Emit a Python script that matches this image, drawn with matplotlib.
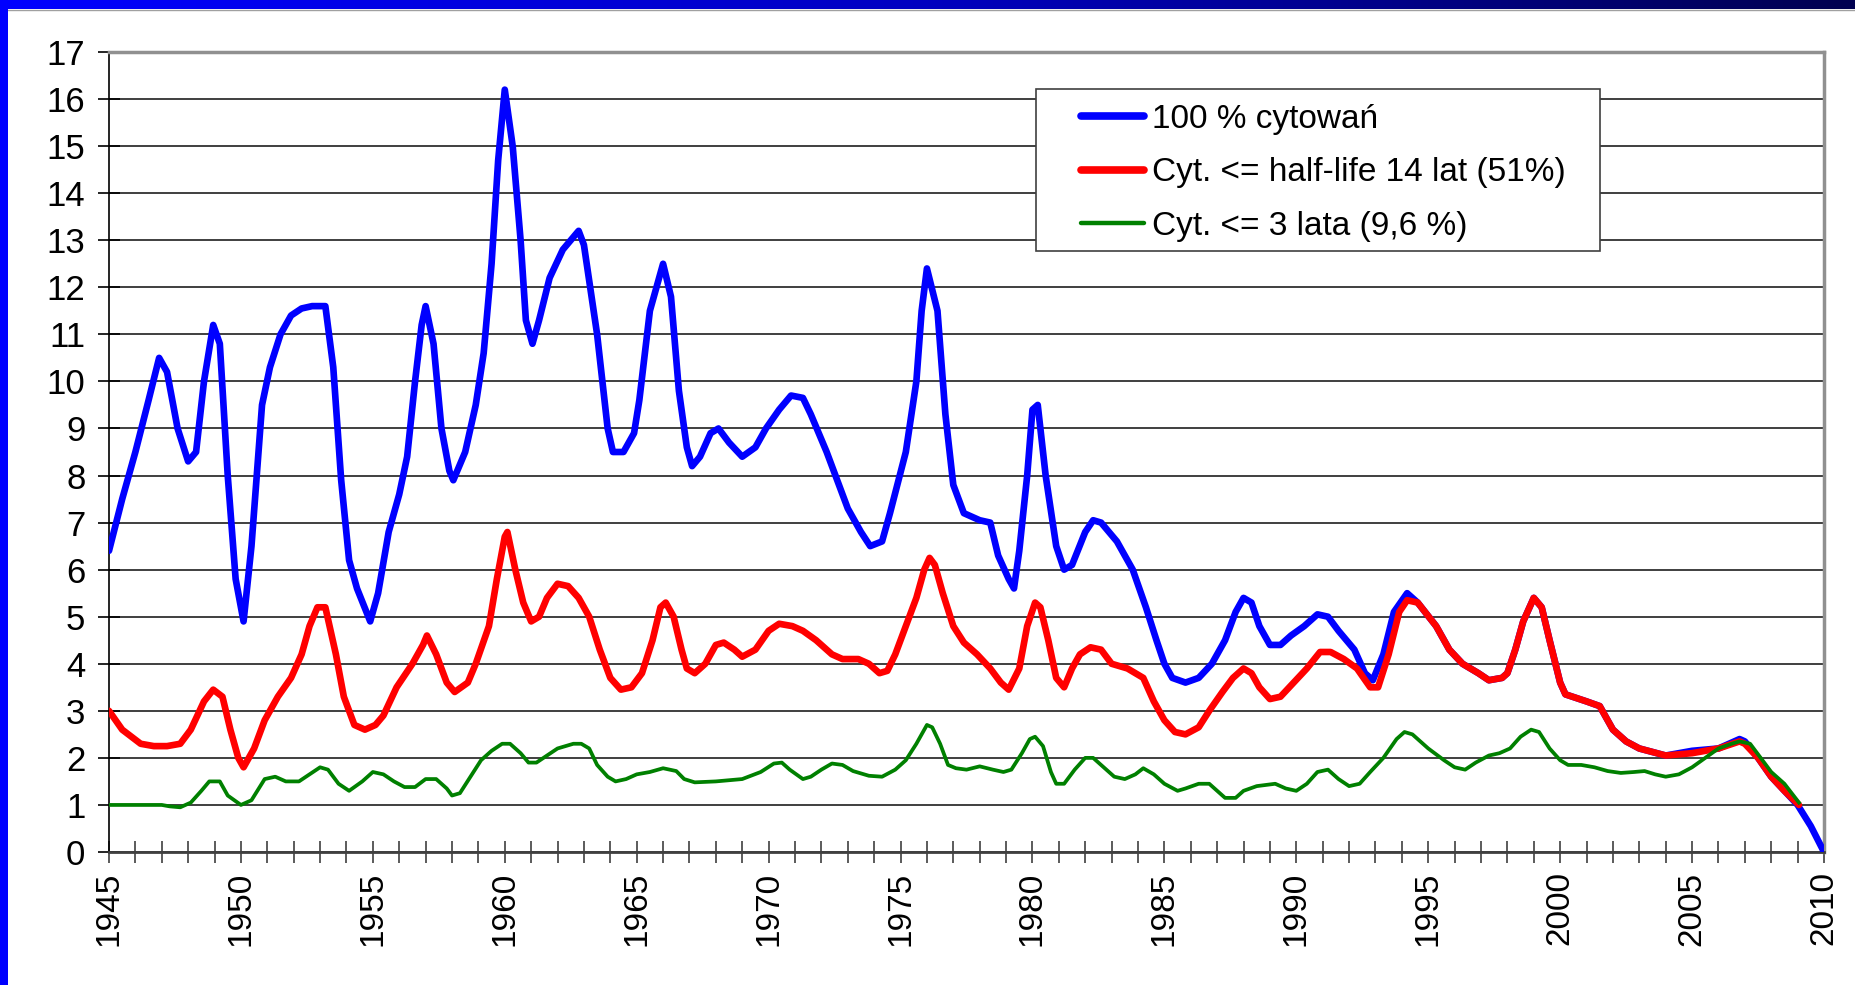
import numpy as np
import matplotlib.pyplot as plt
from matplotlib.patches import Rectangle
from matplotlib.lines import Line2D

plt.rcParams['font.family'] = ['Liberation Sans', 'DejaVu Sans']

# 100 % cytowan (blue)
blue_years = [1945, 1945.5, 1946, 1946.5, 1946.9, 1947.2, 1947.6, 1948.0, 1948.3, 1948.6, 1948.95,
              1949.2, 1949.5, 1949.8, 1950.1, 1950.4, 1950.8, 1951.1, 1951.5, 1951.9, 1952.3,
              1952.7, 1953.2, 1953.5, 1953.8, 1954.1, 1954.4, 1954.9, 1955.2, 1955.6, 1956.0,
              1956.3, 1956.6, 1956.85, 1957.0, 1957.3, 1957.6, 1957.9, 1958.05, 1958.5, 1958.9,
              1959.2, 1959.5, 1959.75, 1960.0, 1960.3, 1960.6, 1960.8, 1961.05, 1961.3, 1961.7,
              1962.2, 1962.8, 1963.0, 1963.5, 1963.9, 1964.1, 1964.5, 1964.9, 1965.1, 1965.5,
              1966.0, 1966.3, 1966.6, 1966.9, 1967.1, 1967.4, 1967.8, 1968.1, 1968.5, 1969.0,
              1969.5, 1969.9, 1970.4, 1970.85, 1971.3, 1971.6, 1972.2, 1973.0, 1973.5, 1973.85,
              1974.3, 1974.6, 1975.2, 1975.6, 1975.8, 1976.0, 1976.4, 1976.7, 1977.0, 1977.4,
              1978.0, 1978.4, 1978.7, 1979.1, 1979.3, 1979.5, 1979.8, 1980.0, 1980.2, 1980.5,
              1980.9, 1981.2, 1981.5, 1982.0, 1982.3, 1982.6, 1983.2, 1983.8, 1984.3, 1984.7,
              1985.0, 1985.3, 1985.8, 1986.3, 1986.8, 1987.3, 1987.7, 1988.0, 1988.3, 1988.6,
              1989.0, 1989.4, 1989.8, 1990.3, 1990.8, 1991.2, 1991.6, 1992.2, 1992.6, 1992.9,
              1993.3, 1993.7, 1994.2, 1994.6, 1995.3, 1995.8, 1996.3, 1996.9, 1997.3, 1997.8,
              1998.0, 1998.3, 1998.6, 1999.0, 1999.3, 1999.6, 2000.0, 2000.2, 2001.0, 2001.5,
              2002.0, 2002.5, 2003.0, 2004.0, 2005.0, 2006.0, 2006.8, 2007.0, 2007.5, 2008.0,
              2008.5, 2009.0, 2009.5, 2010.0]
blue_vals = [6.4, 7.5, 8.5, 9.6, 10.5, 10.2, 9.0, 8.3, 8.5, 10.0, 11.2,
             10.8, 8.0, 5.8, 4.9, 6.5, 9.5, 10.3, 11.0, 11.4, 11.55,
             11.6, 11.6, 10.3, 7.9, 6.2, 5.6, 4.9, 5.5, 6.8, 7.6,
             8.4, 10.0, 11.2, 11.6, 10.8, 9.0, 8.1, 7.9, 8.5, 9.5,
             10.6, 12.5, 14.7, 16.2, 15.0, 13.0, 11.3, 10.8, 11.3, 12.2,
             12.8, 13.2, 12.9, 11.0, 9.0, 8.5, 8.5, 8.9, 9.6, 11.5,
             12.5, 11.8, 9.8, 8.6, 8.2, 8.4, 8.9, 9.0, 8.7, 8.4,
             8.6, 9.0, 9.4, 9.7, 9.65, 9.3, 8.5, 7.3, 6.8, 6.5,
             6.6, 7.2, 8.5, 10.0, 11.5, 12.4, 11.5, 9.3, 7.8, 7.2,
             7.05, 7.0, 6.3, 5.8, 5.6, 6.4, 8.0, 9.4, 9.5, 8.0,
             6.5, 6.0, 6.1, 6.8, 7.05, 7.0, 6.6, 6.0, 5.2, 4.5,
             4.0, 3.7, 3.6, 3.7, 4.0, 4.5, 5.1, 5.4, 5.3, 4.8,
             4.4, 4.4, 4.6, 4.8, 5.05, 5.0, 4.7, 4.3, 3.8, 3.65,
             4.2, 5.1, 5.5, 5.3, 4.8, 4.3, 4.0, 3.8, 3.65, 3.7,
             3.8, 4.3, 4.9, 5.4, 5.2, 4.5, 3.6, 3.35, 3.2, 3.1,
             2.6, 2.35, 2.2, 2.05, 2.15, 2.2, 2.4, 2.35, 2.0, 1.6,
             1.3, 1.0, 0.55, 0.0]

# Cyt. <= half-life 14 lat (red)
red_years = [1945, 1945.5, 1946.2, 1946.7, 1947.2, 1947.7, 1948.1, 1948.6, 1948.95, 1949.3,
             1949.6, 1949.9, 1950.1, 1950.5, 1950.9, 1951.4, 1951.9, 1952.3, 1952.6, 1952.9,
             1953.2, 1953.6, 1953.9, 1954.3, 1954.7, 1955.1, 1955.4, 1955.9, 1956.5, 1956.9,
             1957.05, 1957.4, 1957.8, 1958.1, 1958.6, 1958.9, 1959.4, 1959.7, 1960.0, 1960.1,
             1960.4, 1960.7, 1961.0, 1961.3, 1961.6, 1962.0, 1962.4, 1962.8, 1963.2, 1963.6,
             1964.0, 1964.4, 1964.8, 1965.2, 1965.6, 1965.9, 1966.1, 1966.4, 1966.7, 1966.9,
             1967.2, 1967.6, 1968.0, 1968.3, 1968.7, 1969.0, 1969.5, 1970.0, 1970.4, 1970.9,
             1971.3, 1971.8, 1972.4, 1972.8, 1973.4, 1973.8, 1974.2, 1974.5, 1974.8, 1975.2,
             1975.6, 1975.9, 1976.1, 1976.3, 1976.6, 1977.0, 1977.4, 1977.9, 1978.4, 1978.8,
             1979.1, 1979.5, 1979.8, 1980.1, 1980.3, 1980.6, 1980.9, 1981.2, 1981.5, 1981.8,
             1982.2, 1982.6, 1983.0, 1983.6, 1984.2, 1984.6, 1985.0, 1985.4, 1985.8, 1986.3,
             1986.7, 1987.2, 1987.6, 1988.0, 1988.3, 1988.6, 1989.0, 1989.4, 1989.9, 1990.4,
             1990.9, 1991.3, 1991.8, 1992.3, 1992.8, 1993.1, 1993.5, 1993.9, 1994.2, 1994.6,
             1995.3, 1995.8, 1996.3, 1996.9, 1997.3, 1997.8, 1998.0, 1998.3, 1998.6, 1999.0,
             1999.3, 1999.6, 2000.0, 2000.2, 2001.0, 2001.5, 2002.0, 2002.5, 2003.0, 2004.0,
             2005.0, 2006.0, 2006.8, 2007.0, 2007.5, 2008.0, 2008.5, 2009.05]
red_vals = [3.0, 2.6, 2.3, 2.25, 2.25, 2.3, 2.6, 3.2, 3.45, 3.3,
            2.6, 2.0, 1.8, 2.2, 2.8, 3.3, 3.7, 4.2, 4.8, 5.2,
            5.2, 4.2, 3.3, 2.7, 2.6, 2.7, 2.9, 3.5, 4.0, 4.4,
            4.6, 4.2, 3.6, 3.4, 3.6, 4.0, 4.8, 5.8, 6.7, 6.8,
            6.0, 5.3, 4.9, 5.0, 5.4, 5.7, 5.65, 5.4, 5.0, 4.3,
            3.7, 3.45, 3.5, 3.8, 4.5, 5.2, 5.3, 5.0, 4.3, 3.9,
            3.8, 4.0, 4.4, 4.45, 4.3, 4.15, 4.3, 4.7, 4.85, 4.8,
            4.7, 4.5, 4.2, 4.1, 4.1, 4.0, 3.8, 3.85, 4.2, 4.8,
            5.4, 6.0, 6.25, 6.1, 5.5, 4.8, 4.45, 4.2, 3.9, 3.6,
            3.45, 3.9, 4.8, 5.3, 5.2, 4.5, 3.7, 3.5, 3.9, 4.2,
            4.35, 4.3, 4.0, 3.9, 3.7, 3.2, 2.8, 2.55, 2.5, 2.65,
            3.0, 3.4, 3.7, 3.9, 3.8, 3.5, 3.25, 3.3, 3.6, 3.9,
            4.25, 4.25, 4.1, 3.9, 3.5, 3.5, 4.2, 5.1, 5.35, 5.3,
            4.8, 4.3, 4.0, 3.8, 3.65, 3.7, 3.8, 4.3, 4.9, 5.4,
            5.2, 4.5, 3.6, 3.35, 3.2, 3.1, 2.6, 2.35, 2.2, 2.05,
            2.1, 2.2, 2.35, 2.3, 2.0, 1.6, 1.3, 1.0]

# Cyt. <= 3 lata (green)
green_years = [1945, 1946, 1947, 1947.3, 1947.7, 1948.1, 1948.5, 1948.8, 1949.2, 1949.5,
               1950.0, 1950.4, 1950.9, 1951.3, 1951.7, 1952.2, 1952.6, 1953.0, 1953.3, 1953.7,
               1954.1, 1954.6, 1955.0, 1955.4, 1955.8, 1956.2, 1956.6, 1957.0, 1957.4, 1957.8,
               1958.0, 1958.3, 1958.7, 1959.1, 1959.5, 1959.9, 1960.2, 1960.6, 1960.9, 1961.2,
               1961.6, 1962.0, 1962.6, 1962.9, 1963.2, 1963.5, 1963.9, 1964.2, 1964.6, 1965.0,
               1965.5, 1966.0, 1966.5, 1966.8, 1967.2, 1968.0, 1969.0, 1969.7, 1970.2, 1970.5,
               1970.8, 1971.3, 1971.6, 1972.0, 1972.4, 1972.8, 1973.2, 1973.8, 1974.3, 1974.8,
               1975.2, 1975.6, 1976.0, 1976.2, 1976.5, 1976.8, 1977.1, 1977.5, 1978.0, 1978.5,
               1978.9, 1979.2, 1979.6, 1979.9, 1980.1, 1980.4, 1980.7, 1980.9, 1981.2, 1981.6,
               1982.0, 1982.3, 1982.7, 1983.1, 1983.5, 1983.9, 1984.2, 1984.6, 1985.0, 1985.5,
               1985.8, 1986.3, 1986.7, 1987.0, 1987.3, 1987.7, 1988.0, 1988.5, 1989.2, 1989.6,
               1990.0, 1990.4, 1990.8, 1991.2, 1991.6, 1992.0, 1992.4, 1992.8, 1993.3, 1993.8,
               1994.1, 1994.4, 1995.0, 1995.6, 1996.0, 1996.4, 1996.8, 1997.3, 1997.7, 1998.1,
               1998.5, 1998.9, 1999.2, 1999.6, 2000.0, 2000.3, 2000.8, 2001.3, 2001.8, 2002.3,
               2002.8, 2003.2, 2003.6, 2004.0, 2004.5, 2005.0, 2005.5, 2006.0, 2006.5, 2006.8,
               2007.2, 2007.6, 2008.0, 2008.5, 2009.05]
green_vals = [1.0, 1.0, 1.0, 0.97, 0.95, 1.05, 1.3, 1.5, 1.5, 1.2,
              1.0, 1.1, 1.55, 1.6, 1.5, 1.5, 1.65, 1.8, 1.75, 1.45,
              1.3, 1.5, 1.7, 1.65, 1.5, 1.38, 1.38, 1.55, 1.55, 1.35,
              1.2, 1.25, 1.6, 1.95, 2.15, 2.3, 2.3, 2.1, 1.9, 1.9,
              2.05, 2.2, 2.3, 2.3, 2.2, 1.85, 1.6, 1.5, 1.55, 1.65,
              1.7, 1.78, 1.72, 1.55, 1.48, 1.5, 1.55, 1.7, 1.88, 1.9,
              1.75, 1.55, 1.6, 1.75, 1.88, 1.85, 1.72, 1.62, 1.6, 1.75,
              1.95, 2.3, 2.7, 2.65, 2.3, 1.85, 1.78, 1.75, 1.82, 1.75,
              1.7, 1.75, 2.1, 2.4, 2.45, 2.25, 1.7, 1.45, 1.45, 1.75,
              2.0, 2.0, 1.8, 1.6, 1.55, 1.65, 1.78, 1.65, 1.45, 1.3,
              1.35, 1.45, 1.45, 1.3, 1.15, 1.15, 1.3, 1.4, 1.45, 1.35,
              1.3, 1.45, 1.7, 1.75, 1.55, 1.4, 1.45, 1.7, 2.0, 2.4,
              2.55, 2.5, 2.2, 1.95, 1.8, 1.75, 1.9, 2.05, 2.1, 2.2,
              2.45, 2.6, 2.55, 2.2, 1.95, 1.85, 1.85, 1.8, 1.72, 1.68,
              1.7, 1.72, 1.65, 1.6, 1.65, 1.8, 2.0, 2.2, 2.3, 2.35,
              2.3, 2.0, 1.7, 1.45, 1.05]

labels = ['100 % cytowań', 'Cyt. <= half-life 14 lat (51%)', 'Cyt. <= 3 lata (9,6 %)']
colors = ['#0000ff', '#ff0000', '#008000']

W, H = 1856, 985
fig = plt.figure(figsize=(W / 100, H / 100), dpi=100)
fig.patch.set_facecolor('white')

# blue frame: left bar and gradient top bar
fig.add_artist(Rectangle((0, 0), 8 / W, 1, transform=fig.transFigure,
                         facecolor='#0000ff', edgecolor='none', zorder=10))
bar = fig.add_axes([0, 1 - 9 / H, 1, 9 / H], zorder=10)
grad = np.linspace(0, 1, 256)[None, :]
bar.imshow(grad, aspect='auto', extent=[0, 1, 0, 1],
           cmap=plt.matplotlib.colors.LinearSegmentedColormap.from_list(
               'bar', ['#0000ff', '#0000c0', '#000050']))
bar.axis('off')
fig.add_artist(Line2D([8 / W, 1], [1 - 10 / H, 1 - 10 / H], transform=fig.transFigure,
                      color='#a0a0a0', lw=1))

ax = fig.add_axes([109 / W, 1 - 852 / H, (1824 - 109) / W, (852 - 52) / H])
ax.plot(blue_years, blue_vals, color=colors[0], lw=4.8, solid_joinstyle='round',
        solid_capstyle='round', zorder=3)
ax.plot(red_years, red_vals, color=colors[1], lw=4.8, solid_joinstyle='round',
        solid_capstyle='round', zorder=4)
ax.plot(green_years, green_vals, color=colors[2], lw=2.7, solid_joinstyle='round',
        zorder=5)

ax.set_xlim(1945, 2010)
ax.set_ylim(0, 17)
ax.set_yticks(range(0, 18))
ax.set_xticks(range(1945, 2011))
ax.set_xticklabels([str(y) if y % 5 == 0 else '' for y in range(1945, 2011)],
                   rotation=90, fontsize=24)
ax.tick_params(axis='y', labelsize=25, direction='inout', length=16, width=1.2, pad=9)
ax.tick_params(axis='x', direction='inout', length=16, width=1.2, pad=6, color='#404040')
ax.grid(axis='y', color='#303030', lw=1.3)
ax.set_axisbelow(True)
ax.spines['left'].set_color('black')
ax.spines['left'].set_linewidth(1.2)
ax.spines['bottom'].set_color('#404040')
ax.spines['bottom'].set_linewidth(2)
ax.spines['right'].set_color('#909090')
ax.spines['right'].set_linewidth(2.5)
ax.spines['top'].set_color('#909090')
ax.spines['top'].set_linewidth(2.5)

# legend box
lx0, lx1, ly0, ly1 = 1036, 1600, 89, 251
fig.add_artist(Rectangle((lx0 / W, 1 - ly1 / H), (lx1 - lx0) / W, (ly1 - ly0) / H,
                         transform=fig.transFigure, facecolor='white',
                         edgecolor='#404040', lw=1.2, zorder=6))
handles = [Line2D([], [], color=colors[0], lw=5.5, solid_capstyle='round'),
           Line2D([], [], color=colors[1], lw=5.5, solid_capstyle='round'),
           Line2D([], [], color=colors[2], lw=3.2, solid_capstyle='round')]
leg = fig.legend(handles, labels, loc='upper left',
                 bbox_to_anchor=(1064 / W, 1 - 87 / H), frameon=False, fontsize=24,
                 handlelength=1.9, handletextpad=0.25, labelspacing=0.68, borderpad=0)
leg.set_zorder(7)

fig.savefig('out.png', dpi=100)
